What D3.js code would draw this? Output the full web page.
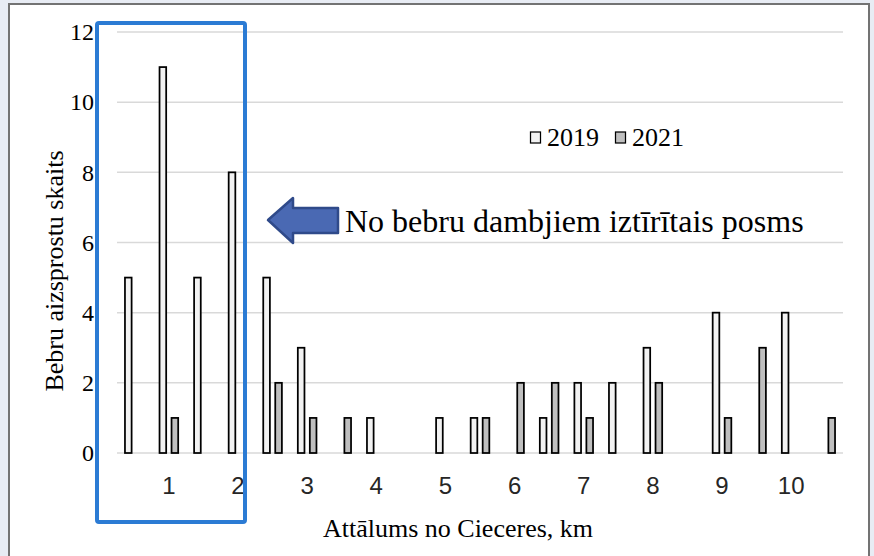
<!DOCTYPE html>
<html>
<head>
<meta charset="utf-8">
<script src="https://cdn.jsdelivr.net/npm/d3@7"></script>
<style>
  body { margin: 0; background: #e8ecf4; }
  svg { display: block; }
</style>
</head>
<body>
<svg id="chart"></svg>
<script>
const categories = ["0.5", "1", "1.5", "2", "2.5", "3", "3.5", "4", "4.5", "5", "5.5",
  "6", "6.5", "7", "7.5", "8", "8.5", "9", "9.5", "10", "10.5"];
const values2019 = [5, 11, 5, 8, 5, 3, 0, 1, 0, 1, 1, 0, 1, 2, 2, 3, 0, 4, 0, 4, 0];
const values2021 = [0, 1, 0, 0, 2, 1, 1, 0, 0, 0, 1, 2, 2, 1, 0, 2, 0, 1, 3, 0, 1];
const seriesNames = ["2019", "2021"];
const xTickLabels = ["1", "2", "3", "4", "5", "6", "7", "8", "9", "10"];
const yTicks = [0, 2, 4, 6, 8, 10, 12];

const width = 874;
const height = 556;
const colors = { "2019": "#f2f2f2", "2021": "#bfbfbf" };
const serif = "'Liberation Serif', 'Times New Roman', serif";

const svg = d3.select("#chart")
    .attr("width", width)
    .attr("height", height);

// chart frame
svg.append("rect")
    .attr("x", 9).attr("y", 4)
    .attr("width", 860).attr("height", 570)
    .attr("fill", "#fff")
    .attr("stroke", "#737373")
    .attr("stroke-width", 2);

const x = d3.scaleBand()
    .domain(categories)
    .range([117, 843])
    .paddingInner(0.41)
    .paddingOuter(0.205);

const x1 = d3.scaleBand()
    .domain(seriesNames)
    .range([0, x.bandwidth()])
    .paddingInner(0.3);

const y = d3.scaleLinear()
    .domain([0, 12])
    .range([453, 32]);

// gridlines
svg.append("g")
    .selectAll("line")
    .data(yTicks)
    .enter()
    .append("line")
    .attr("x1", 117).attr("x2", 843)
    .attr("y1", d => y(d)).attr("y2", d => y(d))
    .attr("stroke", "#d9d9d9")
    .attr("stroke-width", 1.5);

// y axis labels
const yAxis = svg.append("g")
    .attr("transform", "translate(94,0)")
    .call(d3.axisLeft(y).tickValues(yTicks).tickSize(0).tickPadding(0));
yAxis.select(".domain").remove();
yAxis.selectAll("text")
    .attr("font-family", serif)
    .attr("font-size", 24)
    .attr("fill", "#000");

// x axis labels
const xAxis = svg.append("g")
    .attr("transform", "translate(0,477)")
    .call(d3.axisBottom(x).tickValues(xTickLabels).tickSize(0).tickPadding(0));
xAxis.select(".domain").remove();
xAxis.selectAll("text")
    .attr("font-family", "'Liberation Sans', Arial, sans-serif")
    .attr("font-size", 24)
    .attr("fill", "#262626");

// bars
const rows = categories.map((c, i) => ({ cat: c, "2019": values2019[i], "2021": values2021[i] }));
const sw = 1.75;

svg.append("g")
    .selectAll("g")
    .data(rows)
    .enter()
    .append("g")
    .attr("transform", d => `translate(${x(d.cat)},0)`)
    .selectAll("rect")
    .data(d => seriesNames.map(s => ({ key: s, value: d[s] })).filter(e => e.value > 0))
    .enter()
    .append("rect")
    .attr("x", d => x1(d.key) + sw / 2)
    .attr("width", x1.bandwidth() - sw)
    .attr("y", d => y(d.value))
    .attr("height", d => y(0) - y(d.value))
    .attr("fill", d => colors[d.key])
    .attr("stroke", "#000")
    .attr("stroke-width", sw);

// axis titles
svg.append("text")
    .attr("x", 458).attr("y", 537)
    .attr("text-anchor", "middle")
    .attr("font-family", serif)
    .attr("font-size", 26)
    .text("Attālums no Cieceres, km");

svg.append("text")
    .attr("transform", "translate(63,271) rotate(-90)")
    .attr("text-anchor", "middle")
    .attr("font-family", serif)
    .attr("font-size", 26)
    .text("Bebru aizsprostu skaits");

// legend
const legend = svg.append("g").attr("transform", "translate(530,131)");
const legendX = [0, 85];
seriesNames.forEach((s, i) => {
    legend.append("rect")
        .attr("x", legendX[i] + 0.5).attr("y", 1)
        .attr("width", 10).attr("height", 11)
        .attr("fill", colors[s])
        .attr("stroke", "#000")
        .attr("stroke-width", 1.25);
    legend.append("text")
        .attr("x", legendX[i] + 17).attr("y", 15)
        .attr("font-family", serif)
        .attr("font-size", 26)
        .text(s);
});

// highlighted section
svg.append("rect")
    .attr("x", 97).attr("y", 23)
    .attr("width", 148).attr("height", 499)
    .attr("rx", 2)
    .attr("fill", "none")
    .attr("stroke", "#2b7bd4")
    .attr("stroke-width", 4);

// arrow + annotation
svg.append("path")
    .attr("d", "M268,220 L293,198 L293,208 L338,208 L338,233 L293,233 L293,243 Z")
    .attr("fill", "#4a69b3")
    .attr("stroke", "#2f4a8a")
    .attr("stroke-width", 2.5)
    .attr("stroke-linejoin", "round");

svg.append("text")
    .attr("x", 345).attr("y", 232)
    .attr("font-family", serif)
    .attr("font-size", 32)
    .text("No bebru dambjiem iztīrītais posms");
</script>
</body>
</html>
